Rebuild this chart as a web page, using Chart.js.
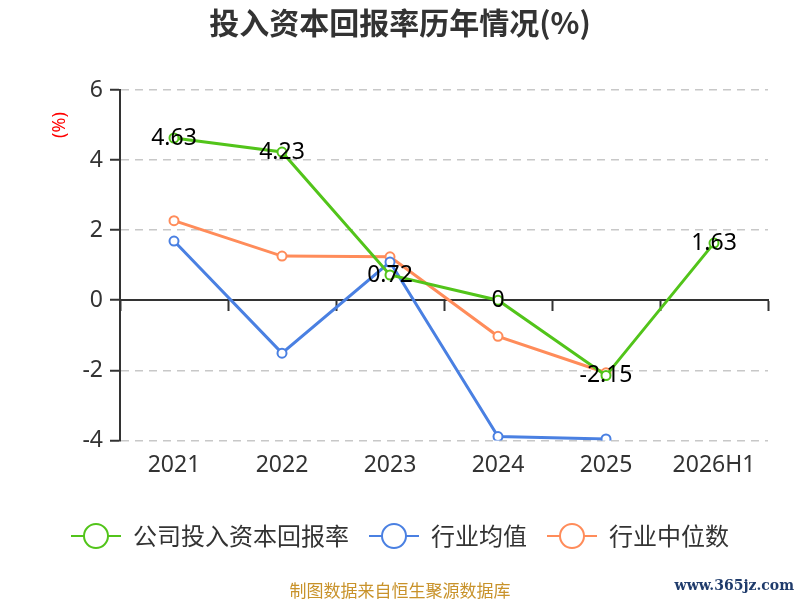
<!DOCTYPE html>
<html lang="zh">
<head>
  <meta charset="UTF-8">
  <title>投入资本回报率历年情况</title>
  <script src="https://cdn.jsdelivr.net/npm/chart.js"></script>
  <style>
    html, body { margin: 0; padding: 0; background: #fff; }
    .wrap { position: relative; width: 800px; height: 600px; }
    .source {
      position: absolute; left: 0; width: 800px; top: 577px;
      text-align: center; font: 17px "Noto Sans CJK SC", sans-serif; color: #c8922a;
    }
    .site {
      position: absolute; right: 6px; top: 577px;
      font: bold 14px "DejaVu Serif", "Liberation Serif", serif; color: #1f3b6b;
    }
  </style>
</head>
<body>
  <div class="wrap">
    <canvas id="roicChart" width="800" height="600"></canvas>
    <div class="source">制图数据来自恒生聚源数据库</div>
    <div class="site">www.365jz.com</div>
  </div>

  <script>
    const years = ['2021', '2022', '2023', '2024', '2025', '2026H1'];
    const companyRoic = [4.63, 4.23, 0.72, 0, -2.15, 1.63];
    const industryMean = [1.69, -1.51, 1.09, -3.89, -3.96, null];
    const industryMedian = [2.27, 1.26, 1.24, -1.03, -2.07, null];
    const yTicks = { min: -4, max: 6, step: 2 };

    const GREEN = '#52c41a';
    const BLUE = '#4a80e2';
    const ORANGE = '#ff8c5a';

    // legend marker: short line with a hollow circle
    function legendIcon(color) {
      const c = document.createElement('canvas');
      c.width = 50; c.height = 28;
      const g = c.getContext('2d');
      g.strokeStyle = color;
      g.lineWidth = 2;
      g.beginPath(); g.moveTo(0, 14); g.lineTo(50, 14); g.stroke();
      g.beginPath(); g.arc(25, 14, 12, 0, Math.PI * 2);
      g.fillStyle = '#fff'; g.fill(); g.stroke();
      return c;
    }

    const valueLabels = {
      id: 'valueLabels',
      afterDatasetsDraw(chart) {
        const ctx = chart.ctx;
        const meta = chart.getDatasetMeta(0);
        ctx.save();
        ctx.font = '23px "Noto Sans", sans-serif';
        ctx.fillStyle = '#000';
        ctx.textAlign = 'center';
        ctx.textBaseline = 'middle';
        meta.data.forEach((pt, i) => {
          const v = companyRoic[i];
          if (v === null) return;
          ctx.fillText(String(v), pt.x, pt.y);
        });
        ctx.restore();
      }
    };

    const unitLabel = {
      id: 'unitLabel',
      afterDraw(chart) {
        const ctx = chart.ctx;
        const a = chart.chartArea;
        ctx.save();
        ctx.translate(a.left - 60, a.top + 35);
        ctx.rotate(-Math.PI / 2);
        ctx.font = '18px "Noto Sans", sans-serif';
        ctx.fillStyle = '#ff0000';
        ctx.textAlign = 'center';
        ctx.textBaseline = 'middle';
        ctx.fillText('(%)', 0, 0);
        ctx.restore();
      }
    };

    function lineSet(label, data, color) {
      return {
        label: label,
        data: data,
        borderColor: color,
        backgroundColor: color,
        borderWidth: 3,
        pointRadius: 4.5,
        pointBackgroundColor: '#fff',
        pointBorderColor: color,
        pointBorderWidth: 2,
        pointStyle: 'circle',
        legendIcon: legendIcon(color),
        tension: 0,
        spanGaps: false
      };
    }

    const datasets = [
      lineSet('公司投入资本回报率', companyRoic, GREEN),
      lineSet('行业均值', industryMean, BLUE),
      lineSet('行业中位数', industryMedian, ORANGE)
    ];

    new Chart(document.getElementById('roicChart'), {
      type: 'line',
      data: { labels: years, datasets: datasets },
      plugins: [valueLabels, unitLabel],
      options: {
        responsive: false,
        animation: false,
        devicePixelRatio: 1,
        layout: { padding: { left: 0, right: 0, top: 0, bottom: 42 } },
        plugins: {
          title: {
            display: true,
            text: '投入资本回报率历年情况(%)',
            color: '#333',
            font: { size: 30, weight: 'bold', family: '"Noto Sans CJK SC", sans-serif' },
            padding: { top: 5, bottom: 49 }
          },
          legend: {
            position: 'bottom',
            labels: {
              usePointStyle: true,
              pointStyleWidth: 50,
              padding: 20,
              color: '#333',
              font: { size: 24, family: '"Noto Sans CJK SC", sans-serif' },
              generateLabels(chart) {
                return chart.data.datasets.map((d, i) => ({
                  text: d.label,
                  pointStyle: d.legendIcon,
                  fillStyle: '#fff',
                  strokeStyle: d.borderColor,
                  fontColor: '#333',
                  lineWidth: 0,
                  hidden: false,
                  datasetIndex: i
                }));
              }
            }
          },
          tooltip: { enabled: false }
        },
        scales: {
          x: {
            type: 'category',
            position: { y: 0 },
            offset: true,
            border: { display: true, color: '#333', width: 2 },
            grid: {
              offset: true,
              drawOnChartArea: false,
              drawTicks: true,
              tickLength: 10,
              tickColor: '#333',
              tickWidth: 2
            },
            ticks: { display: false }
          },
          x2: {
            type: 'category',
            position: 'bottom',
            offset: true,
            afterFit(scale) { scale.height += 14; },
            border: { display: false },
            grid: { display: false, drawTicks: false },
            ticks: {
              color: '#333',
              padding: 11,
              font: { size: 23, family: '"Noto Sans", sans-serif' }
            }
          },
          y: {
            min: yTicks.min,
            max: yTicks.max,
            afterFit(scale) { scale.width = 120; },
            border: { display: true, color: '#333', width: 2, dash: [8, 6] },
            grid: {
              color: c => (c.tick && c.tick.value === 0) ? 'rgba(0,0,0,0)' : '#c8c8c8',
              lineWidth: 1.5,
              tickColor: '#333',
              tickLength: 10,
              tickWidth: 2
            },
            ticks: {
              stepSize: yTicks.step,
              color: '#333',
              padding: 7,
              font: { size: 23, family: '"Noto Sans", sans-serif' }
            }
          },
          // empty right axis, keeps the plot clear of the right edge
          yRight: {
            position: 'right',
            afterFit(scale) { scale.width = 32; },
            border: { display: false },
            grid: { display: false, drawTicks: false },
            ticks: { display: false }
          }
        }
      }
    });
  </script>
</body>
</html>
